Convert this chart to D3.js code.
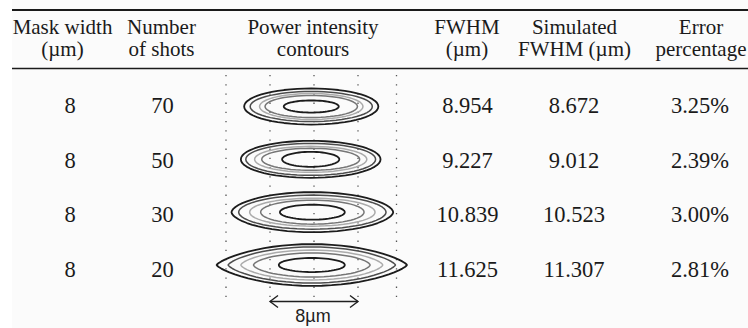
<!DOCTYPE html>
<html>
<head>
<meta charset="utf-8">
<script src="https://cdn.jsdelivr.net/npm/d3@7"></script>
<style>
  body { margin: 0; background: #ffffff; }
  svg { display: block; }
</style>
</head>
<body>
<div id="chart"></div>
<script>
// table content
const headers = [
  ['Mask width', '(µm)'],
  ['Number', 'of shots'],
  ['Power intensity', 'contours'],
  ['FWHM', '(µm)'],
  ['Simulated', 'FWHM (µm)'],
  ['Error', 'percentage']
];
const maskWidth = ['8', '8', '8', '8'];
const shots = ['70', '50', '30', '20'];
const fwhm = ['8.954', '9.227', '10.839', '11.625'];
const simFwhm = ['8.672', '9.012', '10.523', '11.307'];
const errorPct = ['3.25%', '2.39%', '3.00%', '2.81%'];

// contour half-widths / half-heights in µm, outer level first
const contourRx = [
  [6.10, 5.55, 4.70, 4.20, 2.50],
  [6.35, 5.90, 5.10, 4.45, 2.60],
  [7.35, 6.70, 5.70, 4.70, 2.95],
  [8.65, 7.60, 6.45, 5.30, 3.00]
];
const contourRy = [
  [1.64, 1.36, 1.18, 1.00, 0.55],
  [1.68, 1.45, 1.18, 1.00, 0.68],
  [1.82, 1.55, 1.27, 1.09, 0.68],
  [1.90, 1.64, 1.36, 1.09, 0.64]
];
const contourCx = [-0.25, -0.3, -0.15, -0.2];
const gridUm = [-8, -4, 0, 4, 7.5];
const scaleBar = [-4, 4];

const width = 748, height = 328;
const levelColor = ['#1c1c1c', '#4d4d4d', '#ababab', '#767676', '#1c1c1c'];
const levelStroke = [1.8, 1.5, 1.5, 1.5, 1.8];
// how pointed the ends of each row's outer contour are (1 = plain ellipse)
const rowTip = [1.0, 1.0, 1.15, 1.5];

const svg = d3.select('#chart').append('svg')
  .attr('width', width)
  .attr('height', height);

svg.append('rect')
  .attr('x', 12).attr('y', 0)
  .attr('width', width - 12).attr('height', height)
  .attr('fill', '#fbfbfb');

// column centres
const colX = d3.scaleOrdinal()
  .domain(d3.range(6))
  .range([70, 162.5, 313, 467.5, 574, 700]);
const headX = d3.scaleOrdinal()
  .domain(d3.range(6))
  .range([62.5, 161.5, 313, 467, 574.5, 701]);

// row baselines for text
const rowY = d3.scalePoint()
  .domain(shots)
  .range([113, 277]);

// contour inset scales (µm -> px)
const xUm = d3.scaleLinear().domain([-8, 8]).range([226, 402]);
const kUm = d3.scaleLinear().domain([0, 1]).range([0, 11]);
const rowC = d3.scalePoint().domain(shots).range([106.5, 265]);

// rules
svg.append('line')
  .attr('x1', 12).attr('x2', width)
  .attr('y1', 10).attr('y2', 10)
  .attr('stroke', '#1a1a1a').attr('stroke-width', 2);
svg.append('line')
  .attr('x1', 12).attr('x2', width)
  .attr('y1', 68.5).attr('y2', 68.5)
  .attr('stroke', '#1a1a1a').attr('stroke-width', 1.5);

// headers
const headG = svg.append('g')
  .attr('font-family', '"Liberation Serif", "Times New Roman", serif')
  .attr('font-size', 21)
  .attr('fill', '#1a1a1a')
  .attr('text-anchor', 'middle');
headers.forEach((h, i) => {
  h.forEach((line, j) => {
    headG.append('text')
      .attr('x', headX(i))
      .attr('y', 33.5 + j * 22)
      .text(line);
  });
});

// dotted grid of the contour panel
svg.append('g').selectAll('line')
  .data(gridUm)
  .join('line')
  .attr('x1', d => xUm(d)).attr('x2', d => xUm(d))
  .attr('y1', 75).attr('y2', 304)
  .attr('stroke', '#555')
  .attr('stroke-width', 1.3)
  .attr('stroke-dasharray', '1.3 7.9');

// contour paths
const line = d3.line().curve(d3.curveLinearClosed);
function contourPath(cx, cy, rx, ry, p) {
  const pts = d3.range(0, 2 * Math.PI, Math.PI / 30).map(t => {
    const s = Math.sin(t);
    return [xUm(cx) + kUm(rx) * Math.cos(t), cy + kUm(ry) * Math.sign(s) * Math.pow(Math.abs(s), p)];
  });
  return line(pts);
}

const contourG = svg.append('g').attr('fill', 'none');
shots.forEach((s, r) => {
  contourRx[r].forEach((rx, k) => {
    const p = k === 4 ? 1 : Math.max(1, rowTip[r] - k * 0.1);
    contourG.append('path')
      .attr('d', contourPath(contourCx[r], rowC(s), rx, contourRy[r][k], p))
      .attr('stroke', levelColor[k])
      .attr('stroke-width', levelStroke[k])
      .attr('stroke-linejoin', 'round');
  });
});

// scale bar
const barY = 301.5;
const barG = svg.append('g')
  .attr('stroke', '#1f1f1f')
  .attr('stroke-width', 1.4)
  .attr('fill', 'none');
barG.append('line')
  .attr('x1', xUm(scaleBar[0])).attr('x2', xUm(scaleBar[1]))
  .attr('y1', barY).attr('y2', barY);
barG.append('path')
  .attr('d', `M${xUm(scaleBar[0]) + 8},${barY - 6}L${xUm(scaleBar[0])},${barY}L${xUm(scaleBar[0]) + 8},${barY + 6}`);
barG.append('path')
  .attr('d', `M${xUm(scaleBar[1]) - 8},${barY - 6}L${xUm(scaleBar[1])},${barY}L${xUm(scaleBar[1]) - 8},${barY + 6}`);
svg.append('text')
  .attr('x', xUm(0) - 1)
  .attr('y', 321.5)
  .attr('text-anchor', 'middle')
  .attr('font-family', '"Liberation Sans", Arial, sans-serif')
  .attr('font-size', 18)
  .attr('fill', '#1f1f1f')
  .text(`${scaleBar[1] - scaleBar[0]}µm`);

// body cells
const bodyCols = [maskWidth, shots, null, fwhm, simFwhm, errorPct];
const bodyG = svg.append('g')
  .attr('font-family', '"Liberation Serif", "Times New Roman", serif')
  .attr('font-size', 22.5)
  .attr('fill', '#1a1a1a')
  .attr('text-anchor', 'middle');
bodyCols.forEach((col, i) => {
  if (!col) return;
  bodyG.selectAll(null)
    .data(col)
    .join('text')
    .attr('x', colX(i))
    .attr('y', (d, r) => rowY(shots[r]))
    .text(d => d);
});
</script>
</body>
</html>
